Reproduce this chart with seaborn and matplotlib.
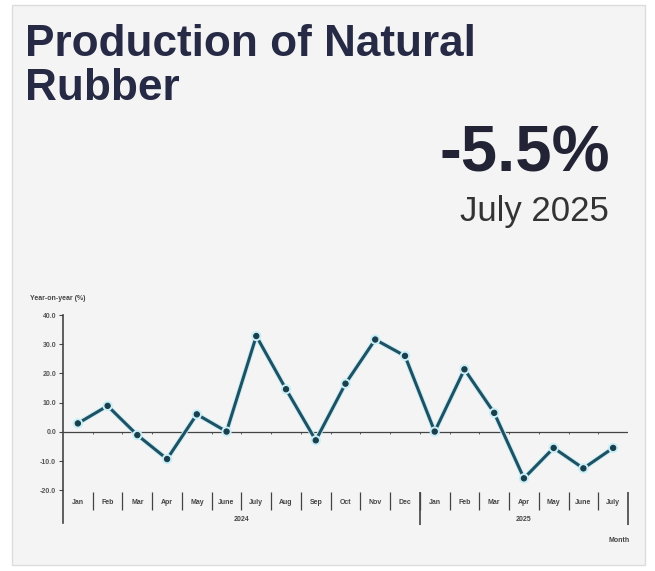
import numpy as np
import pandas as pd
import matplotlib
matplotlib.use("Agg")
import matplotlib.pyplot as plt
import matplotlib.patheffects as pe
from matplotlib.patches import Rectangle
import seaborn as sns

sns.set_style("white")
plt.rcParams["font.family"] = ["Liberation Sans", "DejaVu Sans"]

# data
months = ["Jan", "Feb", "Mar", "Apr", "May", "June", "July", "Aug", "Sep", "Oct", "Nov", "Dec",
          "Jan", "Feb", "Mar", "Apr", "May", "June", "July"]
years = ["2024", "2025"]
year_counts = [12, 7]
yoy = [2.9, 8.9, -1.1, -9.3, 6.0, 0.1, 32.8, 14.6, -2.9, 16.5, 31.6, 26.0,
       0.1, 21.4, 6.5, -15.9, -5.5, -12.5, -5.5]
y_ticks = [40, 30, 20, 10, 0, -10, -20]

df = pd.DataFrame({"idx": np.arange(len(months)), "month": months, "yoy": yoy})

navy = "#262a45"
line_col = "#1f5163"

fig = plt.figure(figsize=(6.55, 5.71), dpi=100)
fig.patch.set_facecolor("white")
W, H = 655, 571
fig.patches.append(Rectangle((12 / W, 1 - 565 / H), 633 / W, 560 / H, transform=fig.transFigure,
                             facecolor="#f4f4f4", edgecolor="#dcdcdc", lw=1, zorder=-10))

# headline texts
fig.text(25 / W, 1 - 100 / H, "Production of Natural\nRubber", ha="left", va="baseline",
         fontsize=31.8, fontweight="bold", color=navy, linespacing=1.08)
fig.text(610 / W, 1 - 172 / H, "-5.5%", ha="right", va="baseline",
         fontsize=47, fontweight="bold", color="#222436")
fig.text(609 / W, 1 - 221 / H, "July 2025", ha="right", va="baseline",
         fontsize=25, color="#333333")

ax = fig.add_axes([63 / W, 1 - 523 / H, 565 / W, 208 / H])
ax.set_facecolor("none")

sns.lineplot(data=df, x="idx", y="yoy", ax=ax, color=line_col, lw=2.2, marker="o",
             markersize=3.8, markerfacecolor="#1a3d4a", markeredgecolor="#1a3d4a", zorder=5,
             path_effects=[pe.Stroke(linewidth=3.6, foreground="#c8eef7"), pe.Normal()])

ax.set_xlim(-0.5, len(months) - 0.5)
ax.set_ylim(-31.2, 40)
ax.axhline(0, color="#444444", lw=0.9, zorder=3)

for s in ["top", "right", "bottom"]:
    ax.spines[s].set_visible(False)
ax.spines["left"].set_color("#444444")
ax.spines["left"].set_linewidth(1.2)

ax.set_yticks(y_ticks)
ax.set_yticklabels([f"{t:.1f}" for t in y_ticks], fontsize=5, fontweight="bold", color="#555555")
ax.tick_params(axis="y", length=3, width=0.8, color="#444444", pad=2, left=True)
ax.set_xticks([])
ax.set_xlabel("")
ax.set_ylabel("")

# small ticks on the zero line at category boundaries
bounds = np.arange(len(months)) + 0.5
ax.vlines(bounds[:-1], -0.9, 0, color="#444444", lw=0.6)

# month labels and separators
for i, m in enumerate(months):
    ax.text(i, -24.3, m, ha="center", va="center", fontsize=5, fontweight="bold", color="#444444")
ax.vlines(bounds, -20.6, -26.7, color="#444444", lw=0.9)

# year labels and longer separators
start = 0
for y, n in zip(years, year_counts):
    ax.text(start + (n - 1) / 2, -30.0, y, ha="center", va="center", fontsize=5,
            fontweight="bold", color="#444444")
    ax.vlines(start + n - 0.5, -20.6, -31.8, color="#444444", lw=1.2, clip_on=False)
    start += n

fig.text(30 / W, 1 - 298 / H, "Year-on-year (%)", ha="left", va="center", fontsize=5,
         fontweight="bold", color="#444444")
fig.text(630 / W, 1 - 541 / H, "Month", ha="right", va="center", fontsize=5,
         fontweight="bold", color="#444444")

fig.savefig("out.png", dpi=100, facecolor=fig.get_facecolor())
